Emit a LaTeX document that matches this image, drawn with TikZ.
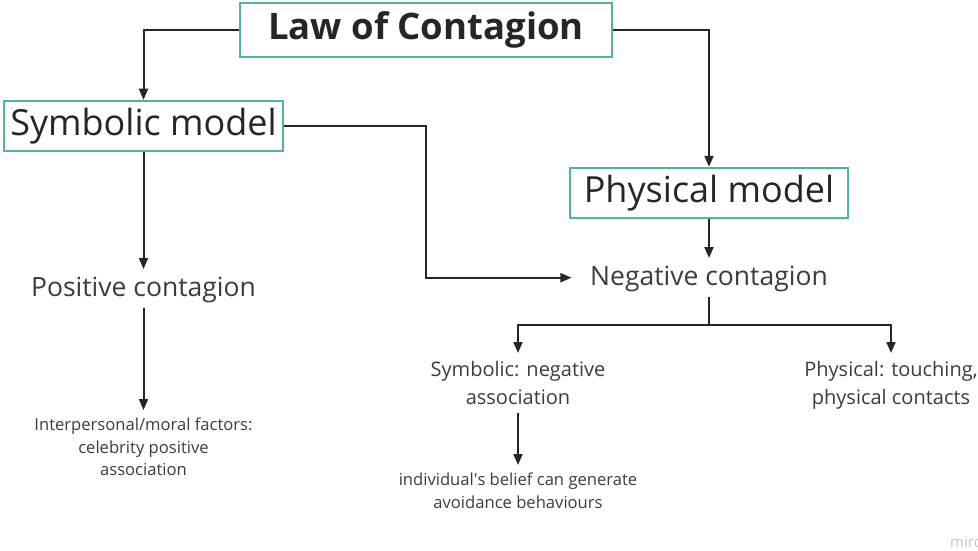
\documentclass[tikz,border=0pt]{standalone}
\usepackage{fontspec}
\setmainfont{Open Sans}
\usepackage{tikz}
\usetikzlibrary{arrows.meta}
\definecolor{miroteal}{HTML}{4DB5A1}
\definecolor{inkgray}{HTML}{262626}
\definecolor{txtgray}{HTML}{3C3C3C}
\tikzset{
  modelbox/.style={draw=miroteal, line width=2.5pt, inner sep=2pt, text=inkgray,
    font=\fontsize{36}{40}\selectfont},
  contagion/.style={anchor=north, inner xsep=18.5pt, inner ysep=7pt, text height=20pt,
    text depth=5pt, text=txtgray, font=\fontsize{26.5}{30}\selectfont},
  midtext/.style={anchor=north, align=center, inner sep=8pt, text=txtgray,
    font=\fontsize{20}{28}\selectfont},
  smalltext/.style={anchor=north, align=center, inner sep=8pt, text=txtgray,
    font=\fontsize{16.6}{22.5}\selectfont},
  link/.style={draw=inkgray, line width=2pt, -{Triangle[length=11pt,width=9pt]}}
}

\begin{document}
\begin{tikzpicture}[x=1pt,y=-1pt]
\useasboundingbox (0,0) rectangle (978,551);
\node[modelbox, minimum width=372pt, minimum height=54pt, font=\fontsize{36.5}{40}\selectfont\bfseries] (law) at (426,30) {Law of Contagion};
\node[modelbox, minimum width=279pt, minimum height=50pt] (symb) at (143.5,126) {Symbolic model};
\node[modelbox, minimum width=278pt, minimum height=50pt] (phys) at (709,193) {Physical model};
\node[contagion] (pos) at (143.5,269) {Positive contagion};
\node[contagion] (neg) at (709,258) {Negative contagion};
\node[midtext] (symneg) at (518,353) {Symbolic: negative\\association};
\node[midtext] (physneg) at (891,353) {Physical: touching,\\physical contacts};
\node[smalltext] (interp) at (143.5,410) {Interpersonal/moral factors:\\celebrity positive\\association};
\node[smalltext] (belief) at (518,465) {individual\textquotesingle s belief can generate\\avoidance behaviours};
\node[anchor=base west, inner sep=0, text=black!22, font=\fontsize{15}{15}\selectfont] (mark) at (950,547) {miro};
\coordinate (bend) at (426,126);
\coordinate (fork) at (709,325);
\draw[link] (law.west) -| (symb.north);
\draw[link] (law.east) -| (phys.north);
\draw[link] (symb.east) -- (bend) |- (neg.west);
\draw[link] (symb.south) -- (pos.north);
\draw[link] (phys.south) -- (neg.north);
\draw[link] (pos.south) -- (interp.north);
\draw[draw=inkgray, line width=2pt] (neg.south) -- (fork);
\foreach \n in {symneg,physneg} {
  \draw[link] (fork) -| (\n.north);
}
\draw[link] (symneg.south) -- (belief.north);
\end{tikzpicture}
\end{document}
